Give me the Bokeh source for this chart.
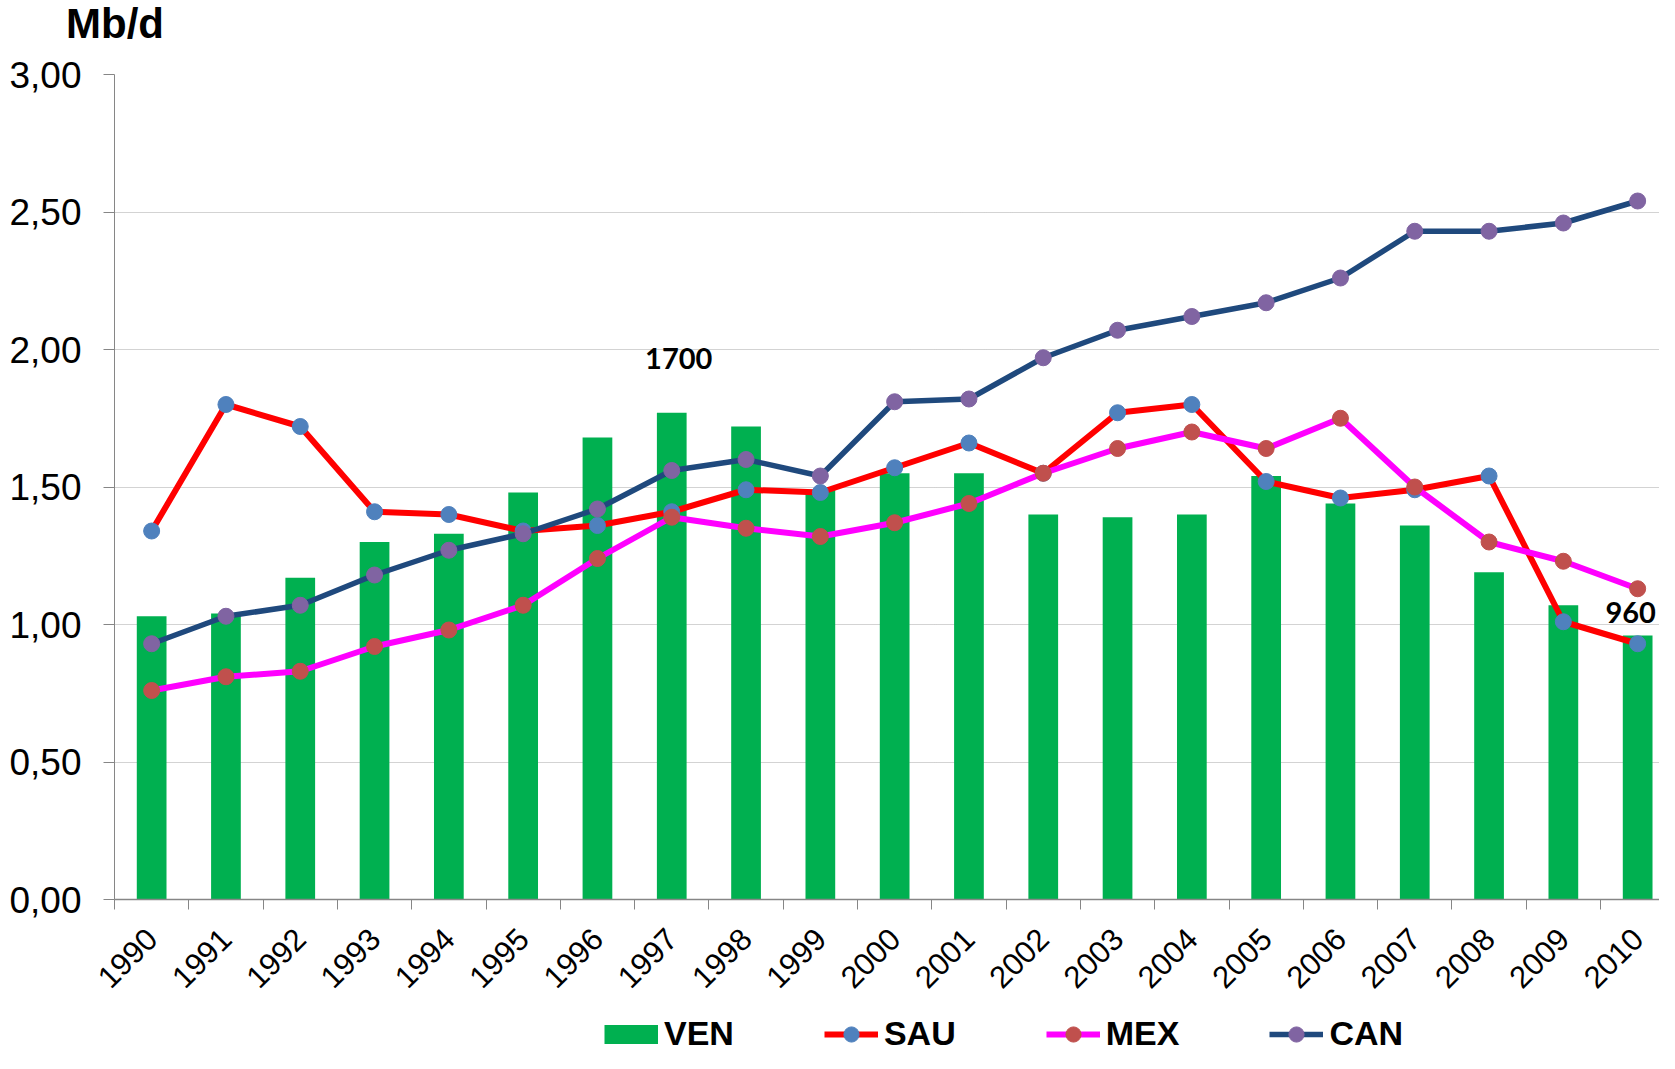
from bokeh.plotting import figure
from bokeh.layouts import column
from bokeh.models import (Range1d, FixedTicker, CustomJSTickFormatter, Legend, LegendItem, Label, Div)
from bokeh.embed import file_html
from bokeh.resources import INLINE

years = ["1990", "1991", "1992", "1993", "1994", "1995", "1996", "1997", "1998", "1999", "2000",
         "2001", "2002", "2003", "2004", "2005", "2006", "2007", "2008", "2009", "2010"]
ven = [1.03, 1.04, 1.17, 1.30, 1.33, 1.48, 1.68, 1.77, 1.72, 1.49, 1.55,
       1.55, 1.40, 1.39, 1.40, 1.54, 1.44, 1.36, 1.19, 1.07, 0.96]
sau = [1.34, 1.80, 1.72, 1.41, 1.40, 1.34, 1.36, 1.41, 1.49, 1.48, 1.57,
       1.66, 1.55, 1.77, 1.80, 1.52, 1.46, 1.49, 1.54, 1.01, 0.93]
mex = [0.76, 0.81, 0.83, 0.92, 0.98, 1.07, 1.24, 1.39, 1.35, 1.32, 1.37,
       1.44, 1.55, 1.64, 1.70, 1.64, 1.75, 1.50, 1.30, 1.23, 1.13]
can = [0.93, 1.03, 1.07, 1.18, 1.27, 1.33, 1.42, 1.56, 1.60, 1.54, 1.81,
       1.82, 1.97, 2.07, 2.12, 2.17, 2.26, 2.43, 2.43, 2.46, 2.54]
y_ticks = [0.0, 0.5, 1.0, 1.5, 2.0, 2.5, 3.0]
notes_year = ["1997", "2010"]
notes_text = ["1700", "960"]
unit_label = "Mb/d"

C_VEN = "#00B050"
C_SAU, M_SAU = "#FF0000", "#4F81BD"
C_MEX, M_MEX = "#FF00FF", "#C0504D"
C_CAN, M_CAN = "#1F497D", "#8064A2"

idx = list(range(len(years)))

head = Div(text=unit_label, width=1659, height=40, margin=0,
           styles={"font-family": "Liberation Sans", "font-weight": "bold",
                   "font-size": "42px", "line-height": "47px", "color": "black",
                   "padding-left": "66px", "white-space": "nowrap", "overflow": "visible"})

p = figure(width=1659, height=960, x_range=Range1d(-0.5, 20.294), y_range=Range1d(0, 3),
           output_backend="svg", toolbar_location=None,
           min_border_left=114, min_border_right=0, min_border_top=34, min_border_bottom=101)
p.outline_line_color = None
p.background_fill_color = "white"
p.xgrid.grid_line_color = None
p.ygrid.ticker = FixedTicker(ticks=y_ticks)
p.ygrid.grid_line_color = "#A6A6A6"
p.ygrid.grid_line_dash = "1 1"
p.ygrid.grid_line_width = 1

# y axis
ya = p.yaxis[0]
ya.ticker = FixedTicker(ticks=y_ticks)
ya.formatter = CustomJSTickFormatter(code="return tick.toFixed(2).replace('.', ',')")
ya.axis_line_color = "#868686"
ya.major_tick_line_color = "#868686"
ya.major_tick_out = 11
ya.major_tick_in = 0
ya.minor_tick_line_color = None
ya.major_label_text_font = "Liberation Sans"
ya.major_label_text_font_size = "37px"
ya.major_label_text_color = "black"
ya.major_label_standoff = 22

# x axis
xa = p.xaxis[0]
xa.ticker = FixedTicker(ticks=idx, minor_ticks=[i - 0.5 for i in range(len(years) + 1)])
xa.major_label_overrides = {i: y for i, y in zip(idx, years)}
xa.major_label_orientation = 0.785398
xa.axis_line_color = "#868686"
xa.axis_line_width = 1.5
xa.major_tick_line_color = None
xa.major_tick_out = 0
xa.major_tick_in = 0
xa.minor_tick_line_color = "#868686"
xa.minor_tick_out = 10
xa.minor_tick_in = 0
xa.major_label_text_font = "Liberation Sans"
xa.major_label_text_font_size = "31px"
xa.major_label_text_color = "black"
xa.major_label_standoff = 24

p.vbar(x=idx, top=ven, width=0.4, fill_color=C_VEN, line_color=None)
p.line(idx, sau, line_color=C_SAU, line_width=6)
p.scatter(idx, sau, size=16, fill_color=M_SAU, line_color=M_SAU)
p.line(idx, mex, line_color=C_MEX, line_width=6)
p.scatter(idx, mex, size=16, fill_color=M_MEX, line_color=M_MEX)
p.line(idx, can, line_color=C_CAN, line_width=5.5)
p.scatter(idx, can, size=16, fill_color=M_CAN, line_color=M_CAN)

# annotations
offsets = {"1997": (7, 54), "2010": (-7, 23)}
for yr, txt in zip(notes_year, notes_text):
    i = years.index(yr)
    dx, dy = offsets[yr]
    p.add_layout(Label(x=i, y=ven[i], x_offset=dx, y_offset=dy, text=txt,
                       text_align="center", text_baseline="alphabetic",
                       text_font="Lato", text_font_style="bold", text_font_size="29px",
                       text_color="black"))

# legend strip
lg = figure(width=1659, height=53, x_range=Range1d(0, 1), y_range=Range1d(0, 1),
            output_backend="svg", toolbar_location=None,
            x_axis_location=None, y_axis_location=None,
            min_border_left=0, min_border_right=0, min_border_top=0, min_border_bottom=0)
lg.outline_line_color = None
lg.grid.visible = False
px, py = [-10], [-10]
r_ven = lg.line(px, py, line_color=C_VEN, line_width=19, line_cap="butt")
r_sau = [lg.line(px, py, line_color=C_SAU, line_width=6),
         lg.scatter(px, py, fill_color=M_SAU, line_color=M_SAU)]
r_mex = [lg.line(px, py, line_color=C_MEX, line_width=6),
         lg.scatter(px, py, fill_color=M_MEX, line_color=M_MEX)]
r_can = [lg.line(px, py, line_color=C_CAN, line_width=5.5),
         lg.scatter(px, py, fill_color=M_CAN, line_color=M_CAN)]
leg = Legend(items=[LegendItem(label="VEN", renderers=[r_ven]),
                    LegendItem(label="SAU", renderers=r_sau),
                    LegendItem(label="MEX", renderers=r_mex),
                    LegendItem(label="CAN", renderers=r_can)],
             location=(490, 0), orientation="horizontal",
             glyph_width=54, glyph_height=38, spacing=90, label_standoff=6,
             label_text_font="Liberation Sans", label_text_font_style="bold",
             label_text_font_size="34px", label_text_color="black",
             padding=0, margin=0, border_line_color=None, background_fill_alpha=0)
lg.add_layout(leg)

open("out.html", "w").write(file_html(column(head, p, lg, spacing=0), INLINE))
